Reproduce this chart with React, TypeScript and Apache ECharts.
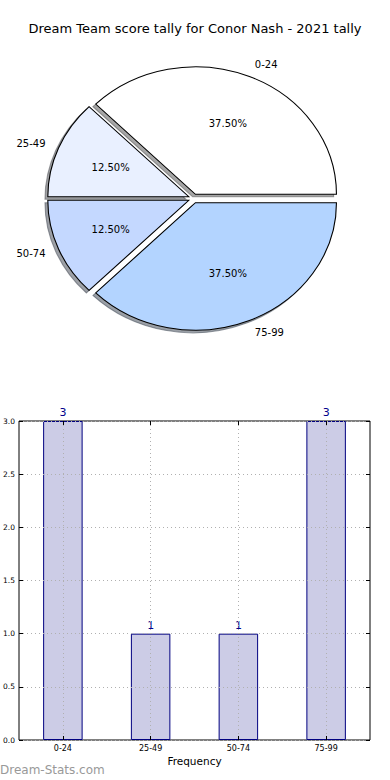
import React, { useEffect, useRef } from "react";
import * as echarts from "echarts";

const categories = ["0-24", "25-49", "50-74", "75-99"];
const counts = [3, 1, 1, 3];
const pieColors = ["#ffffff", "#e9f0ff", "#c4d8ff", "#b3d4ff"];
const gridSlots = ["", "", "", "", "", "", "", "", ""];
const titleText = "Dream Team score tally for Conor Nash - 2021 tally";
const xAxisName = "Frequency";
const watermark = "Dream-Stats.com";

const FONT = "DejaVu Sans";
const PIE_CX = 193.5;
const PIE_CY = 198.5;
const RX = 141;
const RY = 127.5;
const EXPLODE = 0.036;

const total = counts.reduce((a, b) => a + b, 0);
const starts: number[] = [];
{
  let acc = 0;
  counts.forEach((v) => {
    starts.push(acc);
    acc += v;
  });
}

function geom(i: number) {
  const a0 = (starts[i] / total) * Math.PI * 2;
  const a1 = ((starts[i] + counts[i]) / total) * Math.PI * 2;
  const mid = (a0 + a1) / 2;
  const ox = EXPLODE * RX * Math.cos(mid);
  const oy = -EXPLODE * RY * Math.sin(mid);
  return { a0, a1, mid, ox, oy };
}

function darken(hex: string, f: number) {
  const n = parseInt(hex.slice(1), 16);
  const r = Math.round(((n >> 16) & 255) * f);
  const g = Math.round(((n >> 8) & 255) * f);
  const b = Math.round((n & 255) * f);
  return `rgb(${r},${g},${b})`;
}

export default function App() {
  const ref = useRef<HTMLDivElement>(null);

  useEffect(() => {
    if (!ref.current) return;
    const chart = echarts.init(ref.current, null, { renderer: "svg" });

    const shadowItem = (params: any) => {
      const i = params.dataIndex;
      const g = geom(i);
      const c = darken(pieColors[i], 0.3);
      return {
        type: "sector",
        x: PIE_CX + g.ox - 0.02 * RX,
        y: PIE_CY + g.oy + 0.02 * RY,
        scaleX: RX / RY,
        shape: { cx: 0, cy: 0, r: RY, r0: 0, startAngle: -g.a1, endAngle: -g.a0, clockwise: true },
        style: { fill: c, stroke: c, lineWidth: 1, opacity: 0.5, strokeNoScale: true },
      };
    };

    const wedgeItem = (params: any) => {
      const i = params.dataIndex;
      const g = geom(i);
      const cx = PIE_CX + g.ox;
      const cy = PIE_CY + g.oy;
      const cos = Math.cos(g.mid);
      const sin = Math.sin(g.mid);
      const pct = ((counts[i] / total) * 100).toFixed(2) + "%";
      return {
        type: "group",
        children: [
          {
            type: "sector",
            x: cx,
            y: cy,
            scaleX: RX / RY,
            shape: { cx: 0, cy: 0, r: RY, r0: 0, startAngle: -g.a1, endAngle: -g.a0, clockwise: true },
            style: { fill: pieColors[i], stroke: "#000", lineWidth: 1, strokeNoScale: true },
          },
          {
            type: "text",
            x: cx + 0.6 * RX * cos,
            y: cy - 0.6 * RY * sin,
            style: {
              text: pct,
              fill: "#000",
              fontSize: 10,
              fontFamily: FONT,
              align: "center",
              verticalAlign: "middle",
            },
          },
          {
            type: "text",
            x: cx + 1.1 * RX * cos,
            y: cy - 1.1 * RY * sin,
            style: {
              text: categories[i],
              fill: "#000",
              fontSize: 10,
              fontFamily: FONT,
              align: cos > 0 ? "left" : "right",
              verticalAlign: "middle",
            },
          },
        ],
      };
    };

    const oddOnly = (idx: number) => idx % 2 === 1;

    chart.setOption({
      animation: false,
      backgroundColor: "#fff",
      title: {
        text: titleText,
        left: "center",
        top: 17,
        textStyle: { fontSize: 13, fontWeight: "normal", color: "#000", fontFamily: FONT },
      },
      graphic: [
        {
          type: "text",
          left: 0,
          top: 764,
          style: { text: watermark, fontSize: 12, fontFamily: FONT, fill: "#999999" },
        },
      ],
      grid: {
        left: 19,
        right: 20,
        top: 421,
        bottom: 40,
        show: true,
        borderColor: "#000",
        borderWidth: 1,
        backgroundColor: "transparent",
      },
      xAxis: [
        {
          type: "category",
          data: categories,
          boundaryGap: true,
          axisLine: { show: false },
          axisTick: { show: false },
          splitLine: { show: false },
          axisLabel: { fontSize: 8, color: "#000", fontFamily: FONT, margin: 4 },
          name: xAxisName,
          nameLocation: "middle",
          nameGap: 15,
          nameTextStyle: { fontSize: 10.5, color: "#000", fontFamily: FONT },
        },
        {
          type: "category",
          data: gridSlots,
          boundaryGap: false,
          position: "bottom",
          z: 3,
          axisLine: { show: false },
          axisLabel: { show: false },
          axisTick: { show: true, inside: true, length: 4, interval: oddOnly, lineStyle: { color: "#000" } },
          splitLine: {
            show: true,
            interval: oddOnly,
            lineStyle: { color: "#b0b0b0", type: [1, 3], width: 1 },
          },
        },
        {
          type: "category",
          data: gridSlots,
          boundaryGap: false,
          position: "top",
          z: 3,
          axisLine: { show: false },
          axisLabel: { show: false },
          axisTick: { show: true, inside: true, length: 4, interval: oddOnly, lineStyle: { color: "#000" } },
          splitLine: { show: false },
        },
      ],
      yAxis: [
        {
          type: "value",
          min: 0,
          max: 3,
          interval: 0.5,
          z: 3,
          axisLine: { show: false },
          axisTick: { show: true, inside: true, length: 4, lineStyle: { color: "#000" } },
          axisLabel: {
            fontSize: 7.5,
            color: "#000",
            fontFamily: FONT,
            margin: 4,
            formatter: (v: number) => v.toFixed(1),
          },
          splitLine: { show: true, lineStyle: { color: "#b0b0b0", type: [1, 3], width: 1 } },
        },
        {
          type: "value",
          min: 0,
          max: 3,
          interval: 0.5,
          position: "right",
          z: 3,
          axisLine: { show: false },
          axisTick: { show: true, inside: true, length: 4, lineStyle: { color: "#000" } },
          axisLabel: { show: false },
          splitLine: { show: false },
        },
      ],
      series: [
        {
          type: "custom",
          coordinateSystem: "none",
          silent: true,
          z: 1,
          data: counts.map((v, i) => [v, i]),
          renderItem: shadowItem,
        },
        {
          type: "custom",
          coordinateSystem: "none",
          silent: true,
          z: 2,
          data: counts.map((v, i) => [v, i]),
          renderItem: wedgeItem,
        },
        {
          type: "bar",
          xAxisIndex: 0,
          yAxisIndex: 0,
          data: counts,
          barWidth: "45%",
          itemStyle: { color: "#ccccE6", borderColor: "#000080", borderWidth: 1 },
          label: {
            show: true,
            position: "top",
            distance: 3,
            color: "#00008b",
            fontSize: 11,
            fontFamily: FONT,
          },
          z: 2,
        },
      ],
    });

    return () => chart.dispose();
  }, []);

  return (
    <div
      ref={ref}
      style={{ position: "fixed", left: 0, top: 0, width: 390, height: 780, background: "#fff" }}
    />
  );
}
